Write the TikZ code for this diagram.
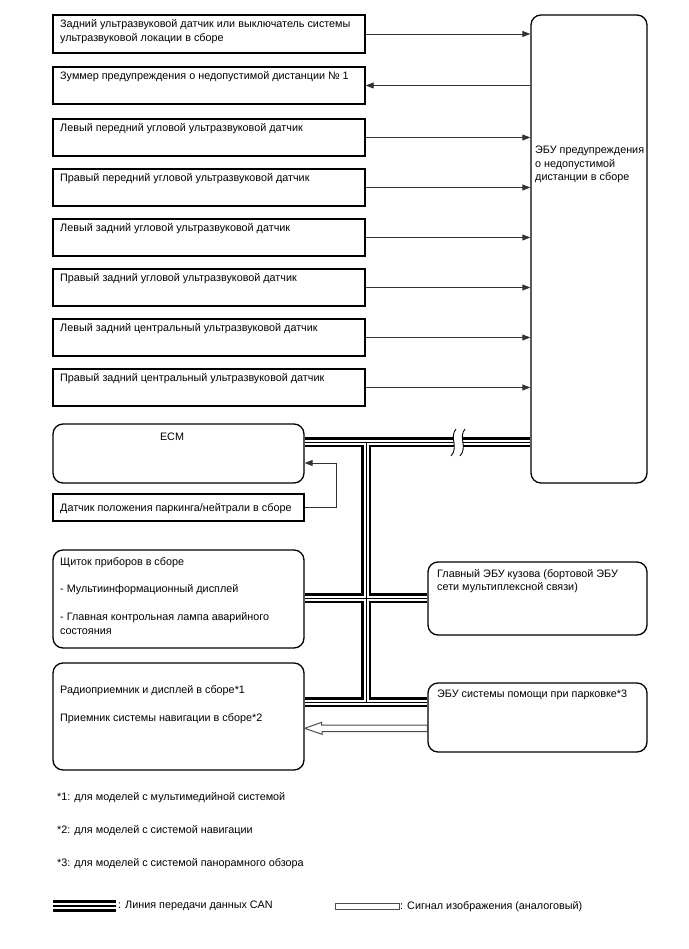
\documentclass[tikz,border=0pt]{standalone}
\usepackage{fontspec}
\setmainfont{Liberation Sans}
\usetikzlibrary{arrows.meta}
\pgfdeclarelayer{bg}
\pgfsetlayers{bg,main}
\begin{document}
\begin{tikzpicture}[x=1pt,y=-1pt,
  sbox/.style={draw=black,line width=1.4pt,fill=white,minimum width=312pt,inner sep=0pt},
  rbox/.style={draw=black,line width=1.3pt,fill=white,rounded corners=10pt,inner sep=0pt},
  txt/.style={anchor=north west,inner sep=0pt,align=left,font=\fontsize{10.8}{13.5}\selectfont},
  arr/.style={draw=black!80,line width=0.9pt,-{Triangle[length=8pt,width=6pt]}},
]
\useasboundingbox (0,0) rectangle (688,949);
% sensor boxes
\node[sbox,minimum height=38pt] (s1) at (209,34) {};
\node[sbox,minimum height=37pt] (s2) at (209,85.5) {};
\node[sbox,minimum height=37pt] (s3) at (209,137.5) {};
\node[sbox,minimum height=37pt] (s4) at (209,187.5) {};
\node[sbox,minimum height=37pt] (s5) at (209,237.5) {};
\node[sbox,minimum height=37pt] (s6) at (209,287.5) {};
\node[sbox,minimum height=37pt] (s7) at (209,337.5) {};
\node[sbox,minimum height=37pt] (s8) at (209,387.5) {};
\node[txt] (t1) at (60,19.5) {Задний ультразвуковой датчик или выключатель системы\\ультразвуковой локации в сборе};
\node[txt] (t2) at (60,71.5) {Зуммер предупреждения о недопустимой дистанции № 1};
\node[txt] (t3) at (60,123.5) {Левый передний угловой ультразвуковой датчик};
\node[txt] (t4) at (60,173.5) {Правый передний угловой ультразвуковой датчик};
\node[txt] (t5) at (60,223.5) {Левый задний угловой ультразвуковой датчик};
\node[txt] (t6) at (60,273.5) {Правый задний угловой ультразвуковой датчик};
\node[txt] (t7) at (60,323.5) {Левый задний центральный ультразвуковой датчик};
\node[txt] (t8) at (60,373.5) {Правый задний центральный ультразвуковой датчик};
% ECU
\node[rbox,minimum width=116pt,minimum height=468pt] (ecu) at (589,249) {};
\node[txt] (tecu) at (535,146) {ЭБУ предупреждения\\о недопустимой\\дистанции в сборе};
% lower boxes
\node[rbox,minimum width=251pt,minimum height=59pt] (ecm) at (178.5,453.5) {};
\node[txt,anchor=north] (tecm) at (172,433) {ECM};
\node[draw=black,line width=1.3pt,fill=white,inner sep=0pt,minimum width=251pt,minimum height=27pt] (park) at (178.5,507.5) {};
\node[txt] (tpark) at (60,503) {Датчик положения паркинга/нейтрали в сборе};
\node[rbox,minimum width=251pt,minimum height=98pt] (meter) at (178.5,599) {};
\node[txt] (tmeter) at (60,557) {Щиток приборов в сборе\\[13.5pt]- Мультиинформационный дисплей\\[15pt]- Главная контрольная лампа аварийного\\состояния};
\node[rbox,minimum width=219pt,minimum height=73pt] (body) at (537.5,598.5) {};
\node[txt] (tbody) at (437,569) {Главный ЭБУ кузова (бортовой ЭБУ\\сети мультиплексной связи)};
\node[rbox,minimum width=251pt,minimum height=107pt] (radio) at (178.5,716.5) {};
\node[txt] (tradio) at (60,685) {Радиоприемник и дисплей в сборе*1\\[14.5pt]Приемник системы навигации в сборе*2};
\node[rbox,minimum width=219pt,minimum height=69pt] (pa) at (537.5,717.5) {};
\node[txt] (tpa) at (437,690) {ЭБУ системы помощи при парковке*3};
% arrows to/from ECU
\draw[arr] (s1.east) -- (s1.east -| ecu.west);
\draw[arr] (s2.east -| ecu.west) -- (s2.east);
\draw[arr] (s3.east) -- (s3.east -| ecu.west);
\draw[arr] (s4.east) -- (s4.east -| ecu.west);
\draw[arr] (s5.east) -- (s5.east -| ecu.west);
\draw[arr] (s6.east) -- (s6.east -| ecu.west);
\draw[arr] (s7.east) -- (s7.east -| ecu.west);
\draw[arr] (s8.east) -- (s8.east -| ecu.west);
% park -> ECM
\coordinate (ecmin) at ([yshift=-9.5pt]ecm.east);
\draw[arr] (park.east) -- ++(32,0) |- (ecmin);
% CAN bus
\coordinate (yA) at (0,442);
\coordinate (yB) at (0,598);
\coordinate (yC) at (0,702);
\coordinate (xV) at (366,0);
\newcommand\canpaths[1]{%
  \draw[#1] (ecm.east |- yA) -- (ecu.west |- yA);
  \draw[#1] (xV |- yA) -- (xV |- yC);
  \draw[#1] (meter.east |- yB) -- (body.west |- yB);
  \draw[#1] (radio.east |- yC) -- (pa.west |- yC);
}
\begin{pgfonlayer}{bg}
\canpaths{line width=10pt,black}
\canpaths{line width=5pt,white}
\canpaths{line width=1pt,black}
\end{pgfonlayer}
% break mark
\fill[white] (456,429) .. controls (449,437) and (459,447) .. (451,456) -- (460,456) .. controls (468,447) and (458,437) .. (465,429) -- cycle;
\draw[black,line width=0.9pt] (456,429) .. controls (449,437) and (459,447) .. (451,456);
\draw[black,line width=0.9pt] (465,429) .. controls (458,437) and (468,447) .. (460,456);
% hollow image arrow
\coordinate (yimg) at (0,728.3);
\draw[black!70,line width=1pt,fill=white] (radio.east |- yimg) -- ++(17,-6) -- ++(0,2.7) -- (pa.west |- 0,725) -- (pa.west |- 0,731.7) -- (322,731.7) -- (322,734.3) -- cycle;
% footnotes
\node[txt] (f1) at (57,792) {*1: для моделей с мультимедийной системой};
\node[txt] (f2) at (57,825) {*2: для моделей с системой навигации};
\node[txt] (f3) at (57,858) {*3: для моделей с системой панорамного обзора};
% legend
\coordinate (lg1) at (53,906);
\coordinate (lg2) at (116,906);
\draw[black,line width=12pt] (lg1) -- (lg2);
\draw[white,line width=5.5pt] (lg1) -- (lg2);
\draw[black,line width=1.5pt] (lg1) -- (lg2);
\node[anchor=west,inner sep=0pt,font=\fontsize{10.8}{12}\selectfont] (lgt1) at (118,906) {: Линия передачи данных CAN};
\node[draw=black!70,line width=1pt,fill=white,minimum width=64pt,minimum height=6pt,inner sep=0pt] (lgbox) at (367,906) {};
\node[anchor=west,inner sep=0pt,font=\fontsize{10.8}{12}\selectfont] (lgt2) at (400,907) {: Сигнал изображения (аналоговый)};
\end{tikzpicture}
\end{document}
